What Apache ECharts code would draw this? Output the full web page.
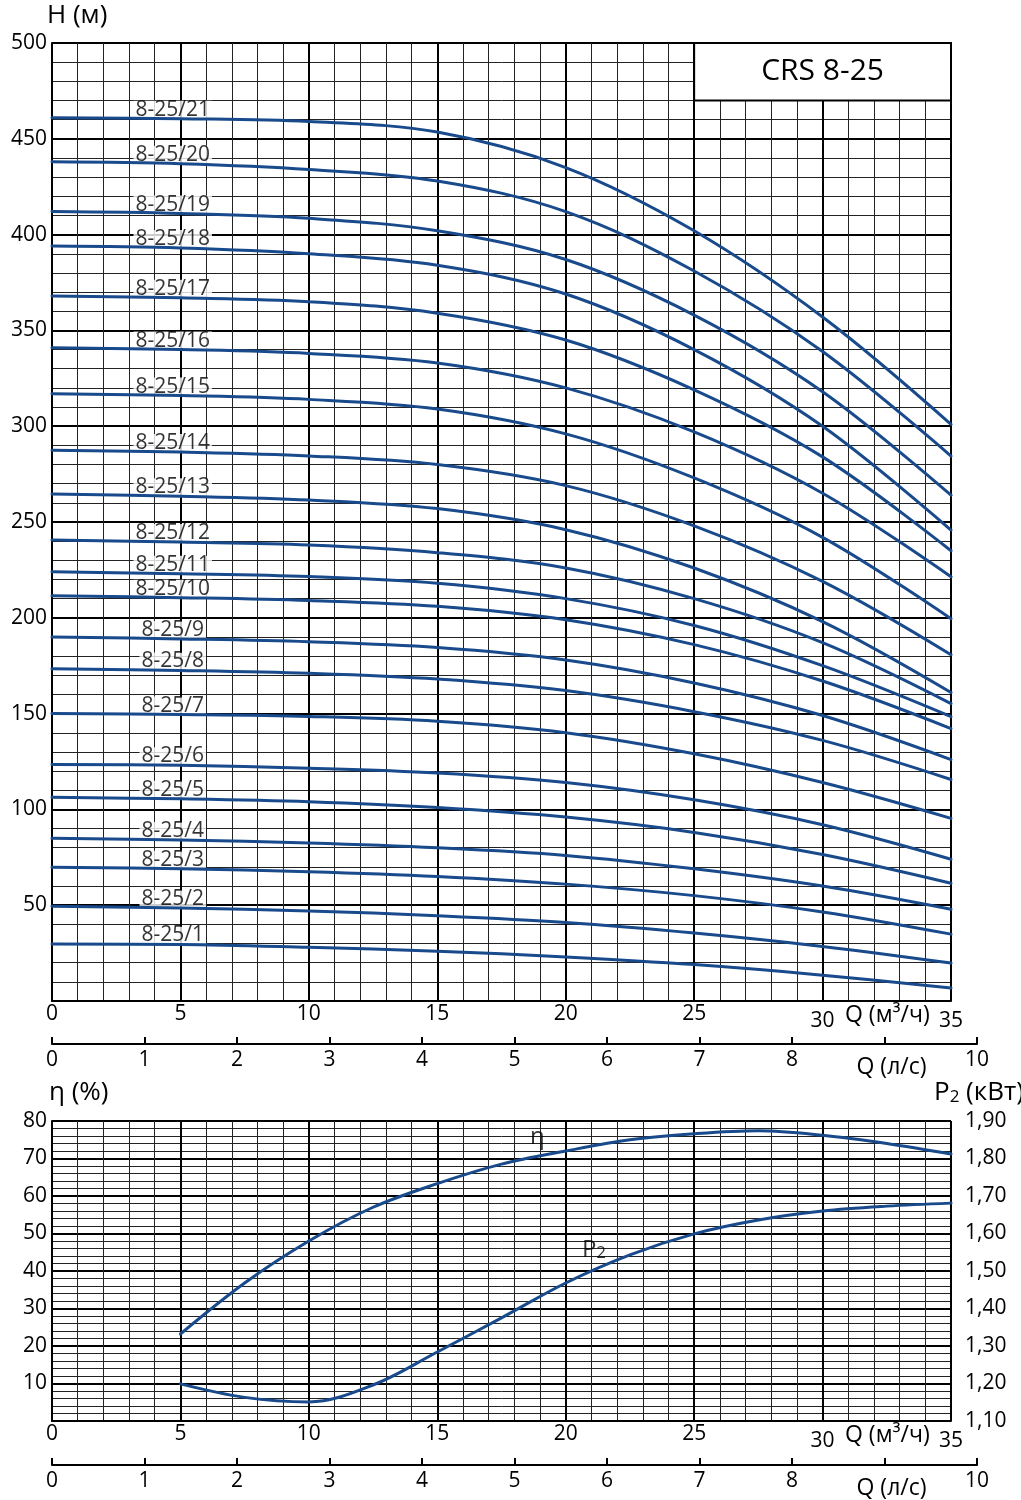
<!DOCTYPE html>
<html><head><meta charset="utf-8">
<script src="https://cdn.jsdelivr.net/npm/echarts@6.0.0/dist/echarts.min.js"></script>
<style>html,body{margin:0;padding:0;background:#fff}#c{width:1021px;height:1500px}</style>
</head><body><div id="c"></div>
<script>
// ---- data ----
const qPoints = [0, 5, 10, 15, 20, 25, 30, 35];            // m3/h
const curveNames = ['8-25/21','8-25/20','8-25/19','8-25/18','8-25/17','8-25/16','8-25/15',
  '8-25/14','8-25/13','8-25/12','8-25/11','8-25/10','8-25/9','8-25/8','8-25/7','8-25/6',
  '8-25/5','8-25/4','8-25/3','8-25/2','8-25/1'];
const H21 = [461, 460.5, 459, 453.5, 435, 402, 357, 301];
const H20 = [438, 437, 434, 428, 412, 381, 339, 284.4];
const H19 = [412, 411, 408.5, 402, 387, 358, 318, 264];
const H18 = [394, 393, 390, 384, 369, 340, 300, 245.8];
const H17 = [368, 367, 365, 359, 345, 319, 284, 235];
const H16 = [341, 340, 338, 333, 320, 297, 265, 221.4];
const H15 = [317, 316, 314, 309, 296, 273, 242, 199.5];
const H14 = [287.5, 286.5, 284.5, 280, 269, 248, 219, 180.7];
const H13 = [264.6, 263.5, 261.5, 257, 246, 226, 198, 161];
const H12 = [240.6, 239.5, 238, 234, 226, 210, 187, 155.2];
const H11 = [224, 223, 221.5, 218, 210, 196, 175, 148.4];
const H10 = [211.5, 210.5, 209, 206, 199, 186, 167, 142.2];
const H9  = [190, 189, 187.5, 184.5, 178, 166, 149, 126];
const H8  = [173.4, 172.5, 171, 168, 162, 151, 136, 115.6];
const H7  = [150, 149.5, 148.5, 146, 140, 129, 114, 95.3];
const H6  = [123.4, 123, 121.5, 119, 114, 105, 92, 74];
const H5  = [106.3, 105.5, 104, 101, 96, 88, 76.5, 61.5];
const H4  = [84.9, 84, 82.5, 80, 76, 69, 60, 47.9];
const H3  = [69.8, 69, 67.5, 65, 61, 55, 46.5, 34.9];
const H2  = [49.5, 48.5, 47, 44.5, 41, 35.5, 28.5, 19.8];
const H1  = [29.7, 29.5, 28, 26, 23, 19, 13.5, 6.8];
const headCurves = [H21,H20,H19,H18,H17,H16,H15,H14,H13,H12,H11,H10,H9,H8,H7,H6,H5,H4,H3,H2,H1];
const curveLabelQ = 4.7;

const qEff = [5, 7.5, 10, 12.5, 15, 17.5, 20, 22.5, 25, 27.5, 30, 32.5, 35];
const etaValues = [23.2, 36.8, 48, 57, 63.3, 68.5, 72, 75, 76.6, 77.4, 76.2, 74, 71.2];
const p2Values  = [1.199, 1.163, 1.151, 1.196, 1.284, 1.375, 1.468, 1.543, 1.599, 1.636, 1.66, 1.673, 1.681];

const hTicksMax = 500, etaMax = 80, p2Min = 1.1, p2Max = 1.9, lsMax = 10, qMax = 35;
const titleText = 'CRS 8-25';
const titleBoxFrom = [25, 470], titleBoxTo = [35, 500];

// ---- styles ----
const FONT = "'Open Sans', 'Noto Sans', sans-serif";
const BLUE = '#184a8c';
const TICK = 21, NAME = 26;
const chart = echarts.init(document.getElementById('c'), null, {renderer: 'canvas'});

function qAxis(gridIndex) {
  return {
    gridIndex, type: 'value', min: 0, max: qMax, interval: 5,
    axisLine: {show: true, onZero: false, lineStyle: {color: '#000', width: 2}},
    axisTick: {show: false},
    minorTick: {show: false, splitNumber: 5},
    axisLabel: {
      fontSize: TICK, color: '#000', fontFamily: FONT, margin: 3,
      formatter: v => v >= 30 ? '{low|' + v + '}' : String(v),
      rich: {low: {fontSize: TICK, fontFamily: FONT, color: '#000', padding: [7, 0, 0, 0]}}
    },
    splitLine: {show: true, lineStyle: {color: '#000', width: 2}},
    minorSplitLine: {show: true, lineStyle: {color: '#222', width: 1}}
  };
}
function lsAxis(gridIndex) {
  return {
    gridIndex, type: 'value', min: 0, max: lsMax, interval: 1,
    axisLine: {show: true, lineStyle: {color: '#000', width: 2}},
    axisTick: {show: true, inside: true, length: 7, lineStyle: {color: '#000', width: 2}},
    axisLabel: {
      fontSize: TICK, color: '#000', fontFamily: FONT, margin: 6,
      formatter: v => v === 9 ? '{q|Q (л/с)}' : String(v),
      rich: {q: {fontSize: 23, fontFamily: FONT, color: '#000', padding: [6, 0, 0, 14]}}
    },
    splitLine: {show: false}
  };
}

const series = [];
headCurves.forEach((arr, i) => {
  series.push({
    type: 'line', name: curveNames[i], xAxisIndex: 0, yAxisIndex: 0,
    data: qPoints.map((q, k) => [q, arr[k]]),
    smooth: 0.35, symbol: 'none', z: 3, silent: true,
    lineStyle: {color: BLUE, width: 3, cap: 'round'}
  });
});
series.push({
  type: 'scatter', xAxisIndex: 0, yAxisIndex: 0, symbolSize: 0, z: 1, silent: true,
  data: headCurves.map((arr, i) => ({name: curveNames[i], value: [curveLabelQ, arr[1]]})),
  label: {show: true, position: 'top', distance: 0, formatter: '{b}', fontSize: 21,
    fontFamily: FONT, color: '#000', backgroundColor: '#fff', padding: [0, 2], lineHeight: 18}
});
series.push({
  type: 'line', xAxisIndex: 0, yAxisIndex: 0, data: [], z: 1, silent: true,
  markArea: {
    silent: true,
    itemStyle: {color: '#fff', opacity: 1, borderColor: '#000', borderWidth: 2},
    label: {show: true, position: 'inside', fontSize: 30, fontFamily: FONT, color: '#000'},
    data: [[{name: titleText, coord: titleBoxFrom}, {coord: titleBoxTo}]]
  }
});
series.push({
  type: 'line', name: 'η', xAxisIndex: 1, yAxisIndex: 1,
  data: qEff.map((q, k) => [q, etaValues[k]]),
  smooth: 0.35, symbol: 'none', z: 3, silent: true,
  lineStyle: {color: BLUE, width: 3, cap: 'round'}
});
series.push({
  type: 'line', name: 'P2', xAxisIndex: 1, yAxisIndex: 2,
  data: qEff.map((q, k) => [q, p2Values[k]]),
  smooth: 0.35, symbol: 'none', z: 3, silent: true,
  lineStyle: {color: BLUE, width: 3, cap: 'round'}
});
series.push({
  type: 'scatter', xAxisIndex: 1, yAxisIndex: 1, symbolSize: 0, z: 1, silent: true,
  data: [{name: 'η', value: [18.9, 75.7]}, {name: 'P2', value: [21.1, 45.6]}],
  label: {show: true, position: 'inside', color: '#000', fontFamily: FONT,
    formatter: p => p.name === 'η' ? '{a|η}' : '{a|P}{s|2}',
    rich: {a: {fontSize: 24, fontFamily: FONT, color: '#000'},
           s: {fontSize: 17, fontFamily: FONT, color: '#000', padding: [6, 0, 0, 0]}}}
});
series.push({type: 'line', xAxisIndex: 2, yAxisIndex: 3, data: []});
series.push({type: 'line', xAxisIndex: 3, yAxisIndex: 4, data: []});

const option = {
  animation: false,
  backgroundColor: '#fff',
  textStyle: {fontFamily: FONT},
  grid: [
    {left: 52, top: 43, width: 899, height: 958},
    {left: 52, top: 1121, width: 899, height: 300},
    {left: 52, top: 1043, width: 925, height: 1},
    {left: 52, top: 1464, width: 925, height: 1}
  ],
  xAxis: [qAxis(0), qAxis(1), lsAxis(2), lsAxis(3)],
  yAxis: [
    {gridIndex: 0, type: 'value', min: 0, max: hTicksMax, interval: 50,
     axisLine: {show: true, lineStyle: {color: '#000', width: 2}},
     axisTick: {show: false}, minorTick: {show: false, splitNumber: 5},
     axisLabel: {fontSize: TICK, color: '#000', fontFamily: FONT, margin: 5, showMinLabel: false},
     splitLine: {show: true, lineStyle: {color: '#000', width: 2}},
     minorSplitLine: {show: true, lineStyle: {color: '#222', width: 1}}},
    {gridIndex: 1, type: 'value', min: 0, max: etaMax, interval: 10,
     axisLine: {show: true, lineStyle: {color: '#000', width: 2}},
     axisTick: {show: false}, minorTick: {show: false, splitNumber: 5},
     axisLabel: {fontSize: TICK, color: '#000', fontFamily: FONT, margin: 5, showMinLabel: false},
     splitLine: {show: true, lineStyle: {color: '#000', width: 2}},
     minorSplitLine: {show: true, lineStyle: {color: '#222', width: 1}}},
    {gridIndex: 1, type: 'value', position: 'right', min: p2Min, max: p2Max, interval: 0.1,
     axisLine: {show: false}, axisTick: {show: false}, splitLine: {show: false},
     axisLabel: {fontSize: TICK, color: '#000', fontFamily: FONT, margin: 14,
       formatter: v => v.toFixed(2).replace('.', ',')}},
    {gridIndex: 2, type: 'value', min: 0, max: 1, show: false},
    {gridIndex: 3, type: 'value', min: 0, max: 1, show: false}
  ],
  graphic: [
    {type: 'text', left: 47, top: 3, style: {text: 'H (м)', fontSize: NAME, fontFamily: FONT, fill: '#000'}},
    {type: 'text', left: 845, top: 1004, style: {text: 'Q (м³/ч)', fontSize: 23, fontFamily: FONT, fill: '#000'}},
    {type: 'text', left: 49, top: 1080, style: {text: 'η (%)', fontSize: NAME, fontFamily: FONT, fill: '#000'}},
    {type: 'text', left: 934, top: 1080, style: {text: '{a|P}{s|2}{a| (кВт)}', fontSize: NAME, fontFamily: FONT, fill: '#000',
      rich: {a: {fontSize: NAME, fontFamily: FONT}, s: {fontSize: 17, fontFamily: FONT, padding: [8, 0, 0, 0]}}}},
    {type: 'text', left: 845, top: 1424, style: {text: 'Q (м³/ч)', fontSize: 23, fontFamily: FONT, fill: '#000'}}
  ],
  series
};
chart.setOption(option);
</script></body></html>
